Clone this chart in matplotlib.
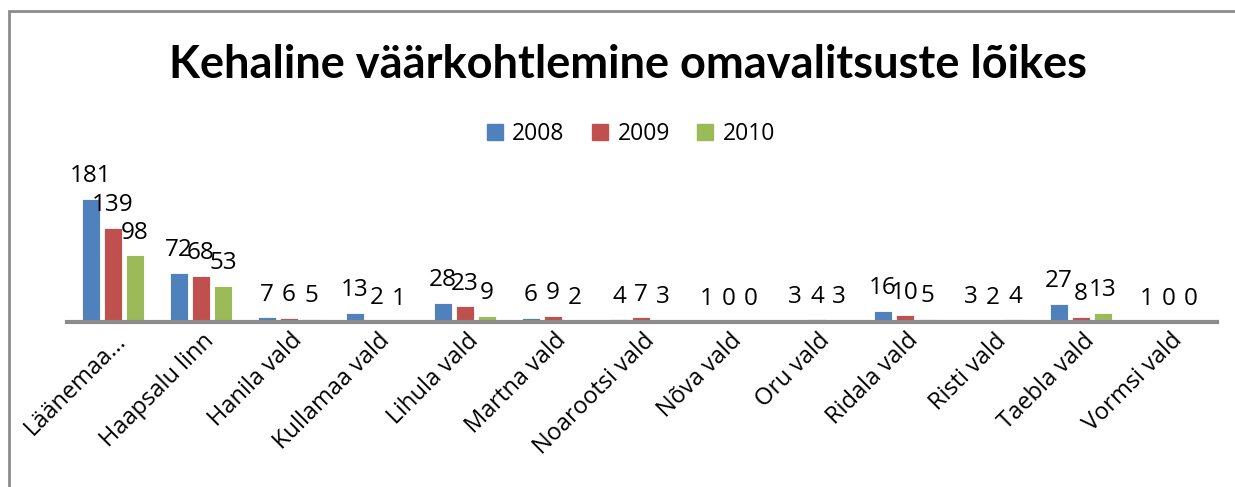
import matplotlib
matplotlib.use("Agg")
import matplotlib.pyplot as plt
import numpy as np
from matplotlib.patches import Rectangle

categories = ["Läänemaa...", "Haapsalu linn", "Hanila vald", "Kullamaa vald", "Lihula vald",
              "Martna vald", "Noarootsi vald", "Nõva vald", "Oru vald", "Ridala vald",
              "Risti vald", "Taebla vald", "Vormsi vald"]
series_names = ["2008", "2009", "2010"]
v2008 = [181, 72, 7, 13, 28, 6, 4, 1, 3, 16, 3, 27, 1]
v2009 = [139, 68, 6, 2, 23, 9, 7, 0, 4, 10, 2, 8, 0]
v2010 = [98, 53, 5, 1, 9, 2, 3, 0, 3, 5, 4, 13, 0]
colors = ["#4F81BD", "#C0504D", "#9BBB59"]
title = "Kehaline väärkohtlemine omavalitsuste lõikes"

plt.rcParams['font.family'] = ['Open Sans', 'DejaVu Sans']

W, H = 1235, 487
fig = plt.figure(figsize=(W / 100, H / 100), dpi=100)

# frame
fig.patches.append(Rectangle((9 / W, -0.1), 1.2, (H - 11) / H + 0.1, transform=fig.transFigure,
                             fill=False, edgecolor="#8c8c8c", linewidth=2))

ax_left, ax_right = 69, 1213
ax_bottom, ax_top = 322, 170
ax = fig.add_axes([ax_left / W, 1 - ax_bottom / H, (ax_right - ax_left) / W, (ax_bottom - ax_top) / H])
ax.patch.set_alpha(0)

x = np.arange(len(categories))
width = 0.195
offset = 0.25
data = [v2008, v2009, v2010]
for i, (name, vals, c) in enumerate(zip(series_names, data, colors)):
    pos = x + (i - 1) * offset
    ax.bar(pos, vals, width=width, color=c, edgecolor="white", linewidth=0.6, label=name, zorder=2)
    for px, v in zip(pos, vals):
        ax.annotate(str(v), (px, v), xytext=(0, 12), textcoords="offset points",
                    ha="center", va="baseline", fontsize=17.5, color="black")

ymax = (ax_bottom - ax_top) / (123 / 181)
ax.set_ylim(0, ymax)
ax.set_xlim(-0.5, len(categories) - 0.5)
for s in ["top", "right", "left"]:
    ax.spines[s].set_visible(False)
ax.spines["bottom"].set_color("#8c8c8c")
ax.spines["bottom"].set_linewidth(3)
ax.spines["bottom"].set_bounds(-0.52, len(categories) - 0.45)
ax.set_yticks([])
ax.set_xticks(x)
ax.set_xticklabels([])
ax.tick_params(axis="x", length=0)
for xi, lab in zip(x, categories):
    ax.annotate(lab, (xi, 0), xytext=(7, -11), textcoords="offset points",
                rotation=45, rotation_mode="anchor", ha="right", va="center",
                fontsize=17, color="black", annotation_clip=False)

fig.text(628 / W, 1 - 65 / H, title, ha="center", va="center", fontsize=32.5, fontweight="bold",
         family=['Lato', 'DejaVu Sans'])

handles = [Rectangle((0, 0), 1, 1, color=c) for c in colors]
fig.legend(handles, series_names, loc="center", bbox_to_anchor=(631 / W, 1 - 134 / H), ncol=3,
           frameon=False, fontsize=16.5, handlelength=0.7, handleheight=0.7, handletextpad=0.4,
           columnspacing=1.2)

fig.savefig("out.png", dpi=100)
